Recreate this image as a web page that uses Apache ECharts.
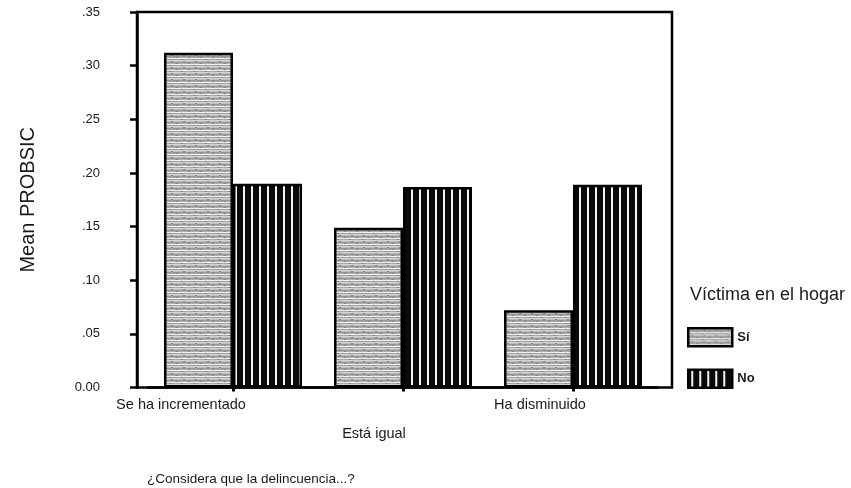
<!DOCTYPE html>
<html>
<head>
<meta charset="utf-8">
<script src="https://cdn.jsdelivr.net/npm/echarts@6/dist/echarts.min.js"></script>
<style>
html,body{margin:0;padding:0;background:#fff;}
#c{width:851px;height:488px;}
</style>
</head>
<body>
<div id="c"></div>
<script>
// ---- data ----
var categories = ['Se ha incrementado', 'Está igual', 'Ha disminuido'];
var seriesNames = ['Sí', 'No'];
var valuesSi = [0.312, 0.149, 0.072];
var valuesNo = [0.190, 0.187, 0.189];
var yTickLabels = ['0.00', '.05', '.10', '.15', '.20', '.25', '.30', '.35'];
var yMin = 0, yMax = 0.35, yStep = 0.05;
var yAxisTitle = 'Mean PROBSIC';
var xAxisTitle = '¿Considera que la delincuencia...?';
var legendTitle = 'Víctima en el hogar';

// ---- patterns ----
function makeSiPattern() {
  var c = document.createElement('canvas');
  c.width = 12; c.height = 6;
  var g = c.getContext('2d');
  var rows = ['#d2d2d2', '#bdbdbd', '#969696', '#aeaeae', '#efefef', '#a2a2a2'];
  for (var r = 0; r < rows.length; r++) {
    g.fillStyle = rows[r];
    g.fillRect(0, r, 12, 1);
  }
  g.fillStyle = '#858585';
  g.fillRect(3, 1, 2, 1);
  g.fillRect(8, 3, 2, 1);
  g.fillRect(1, 5, 2, 1);
  return c;
}
function makeNoPattern() {
  var c = document.createElement('canvas');
  c.width = 8; c.height = 8;
  var g = c.getContext('2d');
  g.fillStyle = '#0a0a0a';
  g.fillRect(0, 0, 8, 8);
  g.fillStyle = '#f4f4f4';
  g.fillRect(3, 0, 2, 8);
  return c;
}
var siFill = { image: makeSiPattern(), repeat: 'repeat' };
var noFill = { image: makeNoPattern(), repeat: 'repeat' };

var labelShift = [
  { right: 104, left: 0, top: 0 },
  { right: 58, left: 0, top: 29 },
  { right: 66, left: 0, top: 0 }
];

var chart = echarts.init(document.getElementById('c'), null, { renderer: 'canvas' });
var FONT = '"Liberation Sans", Arial, sans-serif';

function richFor(i) {
  return { fontFamily: FONT, fontSize: 14.5, color: '#1a1a1a',
    padding: [labelShift[i].top, labelShift[i].right, 0, labelShift[i].left] };
}

var option = {
  backgroundColor: '#ffffff',
  animation: false,
  textStyle: { fontFamily: FONT, color: '#1a1a1a' },
  title: [
    { text: legendTitle, left: 685, top: 281,
      textStyle: { fontFamily: FONT, fontSize: 18, fontWeight: 'normal', color: '#1a1a1a' } },
    { text: xAxisTitle, left: 142, top: 467,
      textStyle: { fontFamily: FONT, fontSize: 13.5, fontWeight: 'normal', color: '#1a1a1a' } }
  ],
  legend: {
    data: seriesNames,
    orient: 'vertical',
    left: 682, top: 322,
    icon: 'rect',
    itemWidth: 44, itemHeight: 18, itemGap: 21,
    itemStyle: { borderColor: '#000', borderWidth: 2.5 },
    textStyle: { fontFamily: FONT, fontSize: 13, color: '#1a1a1a', fontWeight: 'bold' },
    selectedMode: false
  },
  grid: [
    { left: 137, right: 179, top: 12, bottom: 100.5, show: true,
      borderColor: '#000', borderWidth: 2.5, backgroundColor: 'transparent' },
    { left: 148, right: 193, top: 12, bottom: 100.5 }
  ],
  xAxis: [
    { type: 'value', gridIndex: 0, show: false, min: 0, max: 1 },
    { type: 'category', gridIndex: 1, data: categories,
      axisLine: { show: true, lineStyle: { color: '#000', width: 2.5 } },
      axisTick: { show: true, alignWithLabel: true, length: 4, lineStyle: { color: '#000', width: 3 } },
      axisLabel: {
        margin: 10, interval: 0,
        fontFamily: FONT, fontSize: 14.5, color: '#1a1a1a',
        formatter: function (v, i) { return '{l' + i + '|' + v + '}'; },
        rich: { l0: richFor(0), l1: richFor(1), l2: richFor(2) }
      }
    }
  ],
  yAxis: [
    { type: 'value', gridIndex: 0, min: yMin, max: yMax, interval: yStep,
      name: yAxisTitle, nameLocation: 'middle', nameGap: 99, nameRotate: 90,
      nameTextStyle: { fontFamily: FONT, fontSize: 20, color: '#1a1a1a' },
      axisLine: { show: true, lineStyle: { color: '#000', width: 2.5 } },
      axisTick: { show: true, length: 7, lineStyle: { color: '#000', width: 2.5 } },
      axisLabel: { margin: 37, fontFamily: FONT, fontSize: 13, color: '#1a1a1a',
        formatter: function (v) { return yTickLabels[Math.round((v - yMin) / yStep)]; } },
      splitLine: { show: false }
    },
    { type: 'value', gridIndex: 1, min: yMin, max: yMax, show: false, splitLine: { show: false } }
  ],
  series: [
    { name: seriesNames[0], type: 'bar', xAxisIndex: 1, yAxisIndex: 1,
      data: valuesSi, barWidth: 69, barGap: '0%',
      itemStyle: { color: siFill, borderColor: '#000', borderWidth: 2.5 } },
    { name: seriesNames[1], type: 'bar', xAxisIndex: 1, yAxisIndex: 1,
      data: valuesNo, barWidth: 69, barGap: '0%',
      itemStyle: { color: noFill, borderColor: '#000', borderWidth: 2.5 } }
  ]
};
chart.setOption(option);
</script>
</body>
</html>
